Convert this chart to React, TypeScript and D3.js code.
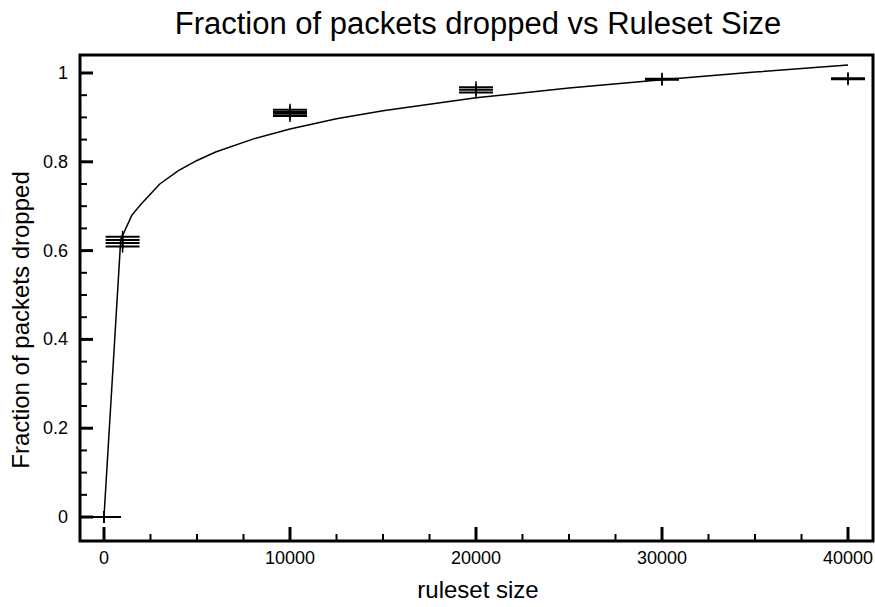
import React, { useEffect, useRef } from 'react';
import * as d3 from 'd3';

// measured samples (several runs per ruleset size)
const rulesetSizes = [0, 1000, 10000, 20000, 30000, 40000];
const droppedRuns = [
  [0, 0, 0],
  [0.631, 0.624, 0.617, 0.609],
  [0.917, 0.912, 0.908, 0.903],
  [0.968, 0.962, 0.956],
  [0.987, 0.985],
  [0.988, 0.986],
];

// fitted curve
const fitX = [0, 900, 1500, 2000, 3000, 4000, 5000, 6000, 8000, 10000, 12500, 15000, 20000, 25000, 30000, 35000, 40000];
const fitY = [0, 0.625, 0.68, 0.705, 0.75, 0.78, 0.803, 0.822, 0.851, 0.874, 0.897, 0.915, 0.944, 0.966, 0.985, 1.002, 1.018];

const xTicks = [0, 10000, 20000, 30000, 40000];
const yTicks = [0, 0.2, 0.4, 0.6, 0.8, 1];

const App = () => {
  const svgRef = useRef<SVGSVGElement>(null);

  useEffect(() => {
    const width = 875;
    const height = 607;
    const margin = { top: 55, right: 2, bottom: 66, left: 80 };

    const svg = d3.select(svgRef.current);
    svg.selectAll('*').remove();
    svg.attr('width', width).attr('height', height);

    const x = d3.scaleLinear()
      .domain([-1290, 41344])
      .range([margin.left, width - margin.right]);
    const y = d3.scaleLinear()
      .domain([-0.054, 1.0405])
      .range([height - margin.bottom, margin.top]);

    const font = '"Liberation Sans", Arial, Helvetica, sans-serif';
    const x0 = margin.left;
    const x1 = width - margin.right;
    const y0 = height - margin.bottom;
    const y1 = margin.top;

    // title
    svg.append('text')
      .attr('x', 478)
      .attr('y', 34)
      .attr('text-anchor', 'middle')
      .attr('font-family', font)
      .attr('font-size', 31)
      .text('Fraction of packets dropped vs Ruleset Size');

    // minor ticks
    const yMinor = d3.range(0, 1.0001, 0.05);
    svg.append('g').selectAll('line')
      .data(yMinor)
      .enter()
      .append('line')
      .attr('x1', x0)
      .attr('x2', d => x0 + (Math.abs(d * 5 - Math.round(d * 5)) < 1e-6 ? 13 : 7))
      .attr('y1', d => y(d))
      .attr('y2', d => y(d))
      .attr('stroke', '#000')
      .attr('stroke-width', d => (Math.abs(d * 5 - Math.round(d * 5)) < 1e-6 ? 3 : 2));

    const xMinor = d3.range(0, 40001, 2500);
    svg.append('g').selectAll('line')
      .data(xMinor)
      .enter()
      .append('line')
      .attr('x1', d => x(d))
      .attr('x2', d => x(d))
      .attr('y1', y0)
      .attr('y2', d => y0 - (d % 10000 === 0 ? 14 : 7))
      .attr('stroke', '#000')
      .attr('stroke-width', d => (d % 10000 === 0 ? 3 : 2));

    // frame
    svg.append('rect')
      .attr('x', x0)
      .attr('y', y1)
      .attr('width', x1 - x0)
      .attr('height', y0 - y1)
      .attr('fill', 'none')
      .attr('stroke', '#000')
      .attr('stroke-width', 3);

    // tick labels
    svg.append('g').selectAll('text')
      .data(yTicks)
      .enter()
      .append('text')
      .attr('x', 68)
      .attr('y', d => y(d) + 6)
      .attr('text-anchor', 'end')
      .attr('font-family', font)
      .attr('font-size', 18)
      .text(d => d3.format('')(+d.toFixed(1)));

    svg.append('g').selectAll('text')
      .data(xTicks)
      .enter()
      .append('text')
      .attr('x', d => x(d))
      .attr('y', 564)
      .attr('text-anchor', 'middle')
      .attr('font-family', font)
      .attr('font-size', 18)
      .text(d => String(d));

    // axis titles
    svg.append('text')
      .attr('transform', `translate(29, 320) rotate(-90)`)
      .attr('text-anchor', 'middle')
      .attr('font-family', font)
      .attr('font-size', 24)
      .text('Fraction of packets dropped');

    svg.append('text')
      .attr('x', 478)
      .attr('y', 598)
      .attr('text-anchor', 'middle')
      .attr('font-family', font)
      .attr('font-size', 24)
      .text('ruleset size');

    // fit curve
    const line = d3.line<number>()
      .x((_, i) => x(fitX[i]))
      .y(d => y(d));
    svg.append('path')
      .datum(fitY)
      .attr('fill', 'none')
      .attr('stroke', '#000')
      .attr('stroke-width', 1.5)
      .attr('d', line);

    // points as wide plus markers
    const pts = rulesetSizes.flatMap((s, i) => droppedRuns[i].map(v => ({ s, v })));
    const g = svg.append('g').attr('stroke', '#000');
    g.selectAll('line.h')
      .data(pts)
      .enter()
      .append('line')
      .attr('class', 'h')
      .attr('x1', d => x(d.s) - 17)
      .attr('x2', d => x(d.s) + 17)
      .attr('y1', d => y(d.v))
      .attr('y2', d => y(d.v))
      .attr('stroke-width', 2);
    g.selectAll('line.v')
      .data(pts)
      .enter()
      .append('line')
      .attr('class', 'v')
      .attr('x1', d => x(d.s))
      .attr('x2', d => x(d.s))
      .attr('y1', d => y(d.v) - 6)
      .attr('y2', d => y(d.v) + 6)
      .attr('stroke-width', 1.5);
  }, []);

  return (
    <svg ref={svgRef} style={{ position: 'absolute', left: 0, top: 0, display: 'block' }}></svg>
  );
};

export default App;
